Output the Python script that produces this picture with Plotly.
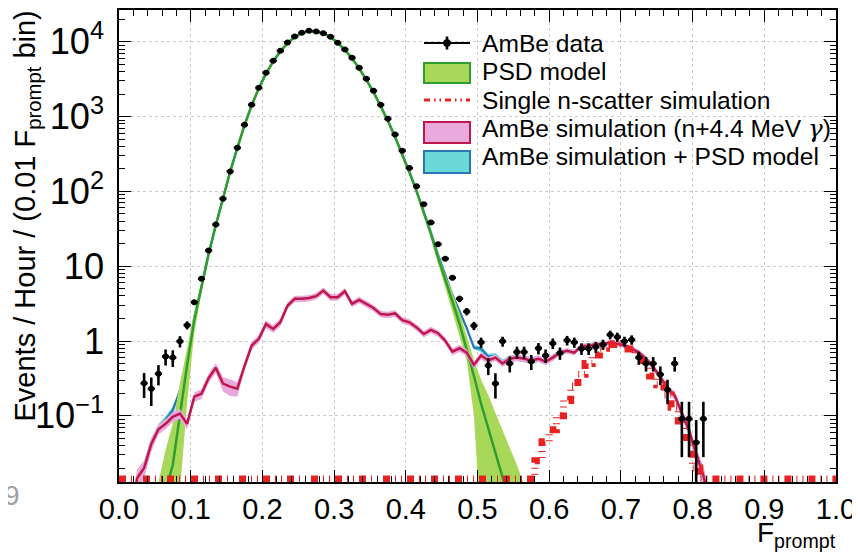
import plotly.graph_objects as go

# ---------------- data ----------------
data_x = [0.035, 0.045, 0.055, 0.065, 0.075, 0.085, 0.095, 0.105, 0.115, 0.125,
          0.135, 0.145, 0.155, 0.165, 0.175, 0.185, 0.195, 0.205, 0.215, 0.225,
          0.235, 0.245, 0.255, 0.265, 0.275, 0.285, 0.295, 0.305, 0.315, 0.325,
          0.335, 0.345, 0.355, 0.365, 0.375, 0.385, 0.395, 0.405, 0.415, 0.425,
          0.435, 0.445, 0.455, 0.465, 0.475, 0.485, 0.495, 0.505, 0.515, 0.525,
          0.535, 0.545, 0.555, 0.565, 0.575, 0.585, 0.595, 0.605, 0.615, 0.625,
          0.635, 0.645, 0.655, 0.665, 0.675, 0.685, 0.695, 0.705, 0.715, 0.725,
          0.735, 0.745, 0.755, 0.765, 0.775, 0.785, 0.795, 0.805, 0.815]
data_y = [0.273, 0.23, 0.365, 0.62, 0.60, 0.99, 1.63, 3.3, 6.8, 16.2,
          36, 80, 185, 383, 776, 1440, 2430, 3850, 5570, 7580,
          9800, 11800, 13200, 14000, 13700, 13000, 11700, 9700, 7880, 6110,
          4490, 3200, 2210, 1440, 933, 576, 349, 205, 117, 67.5,
          38.4, 19.7, 12.6, 7.0, 3.67, 2.48, 1.60, 0.96, 0.47, 0.27,
          0.99, 0.50, 0.71, 0.71, 0.53, 0.80, 0.64, 0.93, 0.69, 1.02,
          0.96, 0.79, 0.79, 0.83, 0.90, 1.21, 1.13, 0.99, 1.04, 0.60,
          0.50, 0.50, 0.357, 0.223, 0.50, 0.091, 0.091, 0.044, 0.091]
data_err = [0.10, 0.095, 0.11, 0.15, 0.15, 0.17, 0.2, 0.25, 0.3, 0.5,
            0.8, 1.2, 2, 3, 4, 6, 8, 10, 12, 14,
            16, 17, 18, 19, 19, 18, 17, 16, 14, 12,
            11, 9, 7, 6, 5, 4, 3, 2, 2, 1.3,
            1, 0.7, 0.6, 0.5, 0.35, 0.28, 0.2, 0.15, 0.12, 0.1,
            0.15, 0.12, 0.13, 0.13, 0.12, 0.14, 0.13, 0.15, 0.13, 0.15,
            0.15, 0.14, 0.14, 0.14, 0.14, 0.16, 0.16, 0.15, 0.15, 0.12,
            0.11, 0.11, 0.1, 0.08, 0.11, 0.063, 0.063, 0.0439, 0.063]

# PSD model (electron-recoil band)
psd_x = [0.055, 0.065, 0.075, 0.085, 0.095, 0.105, 0.115, 0.125, 0.135, 0.145,
         0.155, 0.165, 0.175, 0.185, 0.195, 0.205, 0.215, 0.225, 0.235, 0.245,
         0.255, 0.265, 0.275, 0.285, 0.295, 0.305, 0.315, 0.325, 0.335, 0.345,
         0.355, 0.365, 0.375, 0.385, 0.395, 0.405, 0.415, 0.425, 0.435, 0.445,
         0.455, 0.465, 0.475, 0.485, 0.495, 0.505, 0.515, 0.525, 0.535, 0.545,
         0.555, 0.565, 0.575]
psd_y = [0.002, 0.01, 0.022, 0.11, 0.48, 1.9, 5.2, 14.5, 35, 80,
         183, 380, 765, 1410, 2400, 3750, 5450, 7450, 9600, 11600,
         13100, 13950, 13750, 12950, 11600, 9650, 7800, 6000, 4400, 3100,
         2120, 1370, 880, 535, 315, 180, 100, 53, 27, 13,
         6.4, 3.4, 1.7, 0.78, 0.34, 0.145, 0.068, 0.032, 0.015, 0.006,
         0.002, 0.001, 0.0005]
psd_lo_frac = [0.25, 0.1, 0.14, 0.09, 0.31, 0.68, 0.85, 0.91, 0.96, 0.96,
               0.96, 0.96, 0.96, 0.96, 0.96, 0.96, 0.96, 0.96, 0.96, 0.96,
               0.96, 0.96, 0.96, 0.96, 0.96, 0.96, 0.96, 0.96, 0.96, 0.96,
               0.96, 0.96, 0.96, 0.96, 0.96, 0.96, 0.96, 0.92, 0.88, 0.84,
               0.8, 0.75, 0.7, 0.7, 0.3, 0.02, 0.01, 0.01, 0.01, 0.01,
               0.01, 0.01, 0.01]
psd_hi_frac = [6.5, 3.5, 3.6, 2.5, 1.65, 1.3, 1.15, 1.09, 1.04, 1.04,
               1.04, 1.04, 1.04, 1.04, 1.04, 1.04, 1.04, 1.04, 1.04, 1.04,
               1.04, 1.04, 1.04, 1.04, 1.04, 1.04, 1.04, 1.04, 1.04, 1.04,
               1.04, 1.04, 1.04, 1.04, 1.04, 1.04, 1.04, 1.08, 1.12, 1.16,
               1.22, 1.3, 1.4, 1.5, 1.65, 2.1, 2.8, 3.4, 4.3, 6.5,
               11, 12, 5]

# AmBe simulation (n + 4.4 MeV gamma)
sim_x = [0.015, 0.025, 0.035, 0.045, 0.055, 0.065, 0.075, 0.085, 0.095, 0.105,
         0.115, 0.125, 0.135, 0.145, 0.155, 0.165, 0.175, 0.185, 0.195, 0.205,
         0.215, 0.225, 0.235, 0.245, 0.255, 0.265, 0.275, 0.285, 0.295, 0.305,
         0.315, 0.325, 0.335, 0.345, 0.355, 0.365, 0.375, 0.385, 0.395, 0.405,
         0.415, 0.425, 0.435, 0.445, 0.455, 0.465, 0.475, 0.485, 0.495, 0.505,
         0.515, 0.525, 0.535, 0.545, 0.555, 0.565, 0.575, 0.585, 0.595, 0.605,
         0.615, 0.625, 0.635, 0.645, 0.655, 0.665, 0.675, 0.685, 0.695, 0.705,
         0.715, 0.725, 0.735, 0.745, 0.755, 0.765, 0.775, 0.785, 0.795, 0.805,
         0.815, 0.825]
sim_y = [0.001, 0.0145, 0.02, 0.042, 0.066, 0.078, 0.097, 0.107, 0.078, 0.18,
         0.197, 0.32, 0.44, 0.27, 0.245, 0.23, 0.46, 0.87, 1.07, 1.69,
         1.45, 1.78, 2.97, 3.66, 3.66, 3.75, 3.98, 4.73, 3.85, 3.85,
         4.63, 3.14, 3.55, 3.14, 2.76, 2.29, 2.24, 2.34, 1.9, 1.78,
         1.52, 1.24, 1.41, 1.27, 1.01, 0.72, 0.80, 0.70, 0.48, 0.64,
         0.55, 0.60, 0.50, 0.58, 0.60, 0.58, 0.55, 0.58, 0.53, 0.60,
         0.70, 0.74, 0.70, 0.86, 0.86, 0.91, 0.89, 0.96, 0.91, 0.88,
         0.79, 0.70, 0.58, 0.45, 0.33, 0.23, 0.187, 0.106, 0.064, 0.031,
         0.016, 0.006]
sim_frac = [0.3, 0.3, 0.25, 0.2, 0.15, 0.15, 0.15, 0.15, 0.15, 0.15,
            0.15, 0.15, 0.15, 0.22, 0.25, 0.22, 0.12, 0.12, 0.12, 0.12,
            0.12, 0.12, 0.1, 0.1, 0.1, 0.1, 0.1, 0.1, 0.1, 0.1,
            0.1, 0.1, 0.1, 0.1, 0.1, 0.1, 0.1, 0.1, 0.1, 0.1,
            0.1, 0.1, 0.1, 0.1, 0.1, 0.11, 0.11, 0.11, 0.11, 0.11,
            0.1, 0.1, 0.1, 0.1, 0.1, 0.1, 0.1, 0.1, 0.1, 0.1,
            0.08, 0.08, 0.08, 0.08, 0.08, 0.08, 0.08, 0.08, 0.08, 0.08,
            0.08, 0.08, 0.08, 0.09, 0.1, 0.11, 0.12, 0.14, 0.16, 0.2,
            0.3, 0.4]

# Single n-scatter simulation (histogram: bin lower edge -> content)
nscat_edges = [0.58, 0.59, 0.60, 0.61, 0.62, 0.63, 0.64, 0.65, 0.66, 0.67,
               0.68, 0.69, 0.70, 0.71, 0.72, 0.73, 0.74, 0.75, 0.76, 0.77,
               0.78, 0.79, 0.80]
nscat_y = [0.025, 0.045, 0.065, 0.10, 0.16, 0.25, 0.36, 0.50, 0.65, 0.80,
           0.90, 0.92, 0.88, 0.78, 0.62, 0.46, 0.34, 0.26, 0.19, 0.13,
           0.085, 0.045, 0.02]

y_range = [-1.885, 4.425]
x_range = [0.0, 1.0]
legend_text = ["AmBe data", "PSD model", "Single n-scatter simulation",
               "AmBe simulation (n+4.4 MeV <span style=\"font-family:'DejaVu Serif'\"><i>γ</i></span>)",
               "AmBe simulation + PSD model"]

# ---------------- styles ----------------
FONT = "Liberation Sans, Arial, Helvetica, sans-serif"
C_PSD_FILL, C_PSD_LINE = "#a8d85a", "#2f9e2c"
C_SIM_FILL, C_SIM_LINE = "#eaa9dc", "#c0164e"
C_SUM_FILL, C_SUM_LINE = "#6cd9d9", "#2878b8"
C_RED = "#e82222"
RED_DASH = "7px,5px,1px,5px,1px,5px"
# zero bins of the histogram run along the bottom frame (lifted a hair so the dashes show)
FLOOR = 10 ** (y_range[0] + 3.0 / 74.8)

# page geometry: the browser page has an 8px body margin, so the figure is shrunk by it
OFF = 8
W, H = 860 - OFF, 554 - OFF
L, R, T, B = 119 - OFF, 836 - OFF, 10 - OFF, 482 - OFF

# derived model curves
psd_lo = [v * f for v, f in zip(psd_y, psd_lo_frac)]
psd_hi = [v * f for v, f in zip(psd_y, psd_hi_frac)]
sim_lo = [v * (1 - f) for v, f in zip(sim_y, sim_frac)]
sim_hi = [v * (1 + f) for v, f in zip(sim_y, sim_frac)]
pm = {round(x, 3): i for i, x in enumerate(psd_x)}
sum_y, sum_lo, sum_hi = [], [], []
for i, x in enumerate(sim_x):
    j = pm.get(round(x, 3))
    p = psd_y[j] if j is not None else 0
    sum_y.append(sim_y[i] + p)
    sum_lo.append(sim_lo[i] + p)
    sum_hi.append(sim_hi[i] + p)

nmap = {round(e, 2): v for e, v in zip(nscat_edges, nscat_y)}
h_edges = [round(0.01 * i, 2) for i in range(101)]
h_vals = [nmap.get(round(e, 2), 0) for e in h_edges[:-1]]
h_vals = [v if v > 0 else FLOOR for v in h_vals]
h_vals.append(h_vals[-1])

fig = go.Figure()


def band(x, lo, hi, fill):
    fig.add_trace(go.Scatter(x=x, y=lo, mode="lines", line=dict(width=0, color=fill),
                             showlegend=False, hoverinfo="skip"))
    fig.add_trace(go.Scatter(x=x, y=hi, mode="lines", line=dict(width=0, color=fill),
                             fill="tonexty", fillcolor=fill, showlegend=False, hoverinfo="skip"))


band(sim_x, sum_lo, sum_hi, C_SUM_FILL)
fig.add_trace(go.Scatter(x=sim_x, y=sum_y, mode="lines", line=dict(color=C_SUM_LINE, width=2.2),
                         name="AmBe simulation + PSD model", showlegend=False))
band(psd_x, psd_lo, psd_hi, C_PSD_FILL)
fig.add_trace(go.Scatter(x=psd_x, y=psd_y, mode="lines", line=dict(color=C_PSD_LINE, width=2.5),
                         name="PSD model", showlegend=False))
band(sim_x, sim_lo, sim_hi, C_SIM_FILL)
fig.add_trace(go.Scatter(x=sim_x, y=sim_y, mode="lines", line=dict(color=C_SIM_LINE, width=2.5),
                         name="AmBe simulation", showlegend=False))
fig.add_trace(go.Scatter(x=h_edges, y=h_vals, mode="lines", line_shape="hv",
                         line=dict(color=C_RED, width=7, dash=RED_DASH),
                         name="Single n-scatter simulation", showlegend=False))
fig.add_trace(go.Scatter(x=data_x, y=data_y, mode="markers",
                         marker=dict(color="black", size=6),
                         error_y=dict(type="data", array=data_err, color="black", thickness=2.6, width=0),
                         error_x=dict(type="constant", value=0.005, color="black", thickness=2.6, width=0),
                         name="AmBe data", showlegend=False))


# ---------------- layout helpers (page pixel -> paper) ----------------
def px(x):
    return (x - OFF - L) / (R - L)


def py(y):
    return (B - (y - OFF)) / (B - T)


shapes = []
ann = []
lx0, lx1 = 424, 470
shapes.append(dict(type="line", xref="paper", yref="paper", x0=px(lx0), x1=px(lx1), y0=py(43), y1=py(43),
                   line=dict(color="black", width=2)))
shapes.append(dict(type="line", xref="paper", yref="paper", x0=px(447), x1=px(447), y0=py(36.5), y1=py(49.5),
                   line=dict(color="black", width=2.6)))
shapes.append(dict(type="circle", xref="paper", yref="paper", x0=px(443.5), x1=px(450.5), y0=py(46.5),
                   y1=py(39.5), fillcolor="black", line=dict(color="black", width=1)))
for (y0, y1, fc, lc) in [(63, 83, C_PSD_FILL, C_PSD_LINE), (122, 143, C_SIM_FILL, C_SIM_LINE),
                         (151, 173, C_SUM_FILL, C_SUM_LINE)]:
    shapes.append(dict(type="rect", xref="paper", yref="paper", x0=px(lx0), x1=px(lx1), y0=py(y1), y1=py(y0),
                       fillcolor=fc, line=dict(color=lc, width=2)))
shapes.append(dict(type="line", xref="paper", yref="paper", x0=px(lx0), x1=px(lx1), y0=py(100), y1=py(100),
                   line=dict(color=C_RED, width=3, dash="6px,4px,1.5px,4px,1.5px,4px")))
for t, yc in zip(legend_text, [43, 71.5, 100, 128.5, 157]):
    ann.append(dict(text=t, xref="paper", yref="paper", x=px(480), y=py(yc), xanchor="left",
                    yanchor="middle", showarrow=False, font=dict(size=24.6, color="black", family=FONT)))

ann.append(dict(text="Events / Hour / (0.01 F<sub>prompt</sub> bin)", textangle=-90, xref="paper", yref="paper",
                x=px(27), y=py(9), xanchor="center", yanchor="top", showarrow=False,
                font=dict(size=29, color="black", family=FONT)))
ann.append(dict(text="F<sub>prompt</sub>", xref="paper", yref="paper", x=px(838), y=py(515),
                xanchor="right", yanchor="top", showarrow=False,
                font=dict(size=28, color="black", family=FONT)))
ann.append(dict(text="9", xref="paper", yref="paper", x=px(OFF + 4), y=py(495), xanchor="center",
                yanchor="middle", showarrow=False, font=dict(size=28, color="#a0a0a0", family=FONT)))

axis_common = dict(showline=True, linecolor="black", linewidth=1.6, mirror="ticks",
                   ticks="inside", ticklen=12, tickwidth=1.2, tickcolor="black",
                   showgrid=True, gridcolor="#cccccc", griddash="dot", gridwidth=1, zeroline=False)

fig.update_layout(
    width=W, height=H,
    margin=dict(l=L, r=W - R, t=T, b=H - B, autoexpand=False),
    paper_bgcolor="white", plot_bgcolor="white",
    font=dict(family=FONT, color="black"),
    showlegend=False,
    shapes=shapes, annotations=ann,
    xaxis=dict(range=x_range, tick0=0, dtick=0.1, tickformat=".1f", tickfont=dict(size=29),
               minor=dict(ticks="inside", ticklen=6, tickwidth=1.2, dtick=0.02, tickcolor="black",
                          showgrid=False), **axis_common),
    yaxis=dict(type="log", range=y_range, tick0=0, dtick=1, exponentformat="power",
               tickfont=dict(size=29), ticksuffix="\u2009",
               minor=dict(ticks="inside", ticklen=6, tickwidth=1.2, dtick="D1", tickcolor="black",
                          showgrid=False), **axis_common),
)

fig.write_html("out.html")
